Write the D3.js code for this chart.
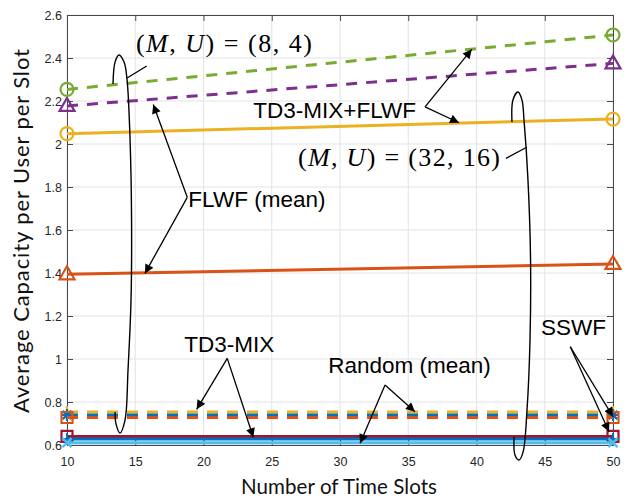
<!DOCTYPE html>
<html>
<head>
<meta charset="utf-8">
<script src="https://cdn.jsdelivr.net/npm/d3@7"></script>
<style>
  body { margin: 0; background: #fff; }
</style>
</head>
<body>
<div id="chart"></div>
<script>
// ---- data ----
var slots = [10, 50];
var xTicks = [10, 15, 20, 25, 30, 35, 40, 45, 50];
var yTicks = [0.6, 0.8, 1, 1.2, 1.4, 1.6, 1.8, 2, 2.2, 2.4, 2.6];

// (M,U) = (8,4) group
var td3flwf_8_4 = [2.254, 2.507];
var flwfMean_8_4 = [2.177, 2.375];
// (M,U) = (32,16) group
var td3flwf_32_16 = [2.048, 2.116];
var flwfMean_32_16 = [1.394, 1.442];
// low curves (dashed: (8,4), solid: (32,16))
var td3mix_8_4 = [0.753, 0.753];
var sswf_8_4 = [0.740, 0.740];
var random_8_4 = [0.728, 0.728];
var td3mix_32_16 = [0.640, 0.640];
var sswf_32_16 = [0.628, 0.628];
var random_32_16 = [0.611, 0.611];

var width = 630;
var height = 500;
var pLeft = 67, pRight = 613, pTop = 15, pBottom = 445;

var svg = d3.select("#chart")
  .append("svg")
  .attr("width", width)
  .attr("height", height)
  .style("font-family", "'Liberation Sans', Arial, sans-serif");

var x = d3.scaleLinear().domain([10, 50]).range([pLeft, pRight]);
var y = d3.scaleLinear().domain([0.6, 2.6]).range([pBottom, pTop]);

// grid
svg.append("g").selectAll("line")
  .data(xTicks).enter().append("line")
  .attr("x1", x).attr("x2", x)
  .attr("y1", pTop).attr("y2", pBottom)
  .attr("stroke", "#e3e3e3").attr("stroke-width", 1);
svg.append("g").selectAll("line")
  .data(yTicks).enter().append("line")
  .attr("y1", y).attr("y2", y)
  .attr("x1", pLeft).attr("x2", pRight)
  .attr("stroke", "#e3e3e3").attr("stroke-width", 1);

// axes, matlab style: ticks inside, box on
var axisColor = "#4a4a4a";
function styleAxis(g, labels) {
  g.select(".domain").attr("stroke", axisColor);
  g.selectAll(".tick line").attr("stroke", axisColor);
  g.selectAll(".tick text").attr("fill", "#262626")
    .style("font-size", "12.5px")
    .style("font-family", "'Liberation Sans', Arial, sans-serif");
  if (!labels) g.selectAll(".tick text").remove();
}
svg.append("g").attr("transform", "translate(0," + pBottom + ")")
  .call(d3.axisBottom(x).tickValues(xTicks).tickSizeInner(-6).tickSizeOuter(0).tickPadding(12))
  .call(styleAxis, true);
svg.append("g").attr("transform", "translate(0," + pTop + ")")
  .call(d3.axisTop(x).tickValues(xTicks).tickSizeInner(-6).tickSizeOuter(0))
  .call(styleAxis, false);
svg.append("g").attr("transform", "translate(" + pLeft + ",0)")
  .call(d3.axisLeft(y).tickValues(yTicks).tickFormat(d3.format("~g")).tickSizeInner(-6).tickSizeOuter(0).tickPadding(5))
  .call(styleAxis, true);
svg.append("g").attr("transform", "translate(" + pRight + ",0)")
  .call(d3.axisRight(y).tickValues(yTicks).tickSizeInner(-6).tickSizeOuter(0))
  .call(styleAxis, false);

// axis titles
svg.append("text")
  .attr("x", 339).attr("y", 494)
  .attr("text-anchor", "middle")
  .attr("textLength", 196).attr("lengthAdjust", "spacing")
  .style("font-family", "Lato, 'Open Sans', sans-serif")
  .style("font-size", "20.5px").attr("fill", "#111")
  .text("Number of Time Slots");
svg.append("text")
  .attr("transform", "translate(29," + 231 + ") rotate(-90)")
  .attr("text-anchor", "middle")
  .attr("textLength", 364).attr("lengthAdjust", "spacing")
  .style("font-family", "Lato, 'Open Sans', sans-serif")
  .style("font-size", "22px").attr("fill", "#111")
  .text("Average Capacity per User per Slot");

// series
var series = [
  {v: td3mix_8_4, color: "#EDB120", dash: true, marker: "plus"},
  {v: sswf_8_4, color: "#0072BD", dash: true, marker: "star"},
  {v: random_8_4, color: "#D95319", dash: true, marker: "square"},
  {v: td3mix_32_16, color: "#A2142F", dash: false, marker: "square"},
  {v: sswf_32_16, color: "#0072BD", dash: false, marker: "plus"},
  {v: random_32_16, color: "#4DBEEE", dash: false, marker: "cross"},
  {v: flwfMean_32_16, color: "#D95319", dash: false, marker: "triangle"},
  {v: td3flwf_32_16, color: "#EDB120", dash: false, marker: "circle"},
  {v: flwfMean_8_4, color: "#7E2F8E", dash: true, marker: "triangle"},
  {v: td3flwf_8_4, color: "#77AC30", dash: true, marker: "circle"}
];

var line = d3.line()
  .x(function(d) { return x(d[0]); })
  .y(function(d) { return y(d[1]); });

function markerPath(type) {
  if (type == "circle") return "M-6.5,0A6.5,6.5 0 1,0 6.5,0A6.5,6.5 0 1,0 -6.5,0Z";
  if (type == "triangle") return "M0,-8L7.5,5L-7.5,5Z";
  if (type == "square") return "M-5.5,-5.5H5.5V5.5H-5.5Z";
  if (type == "plus") return "M-6,0H6M0,-6V6";
  if (type == "cross") return "M-4.5,-4.5L4.5,4.5M-4.5,4.5L4.5,-4.5";
  if (type == "star") return "M-6,0H6M0,-6V6M-4.2,-4.2L4.2,4.2M-4.2,4.2L4.2,-4.2";
}

series.forEach(function(s) {
  var pts = slots.map(function(t, i) { return [t, s.v[i]]; });
  svg.append("path")
    .datum(pts)
    .attr("d", line)
    .attr("fill", "none")
    .attr("stroke", s.color)
    .attr("stroke-width", 3)
    .attr("stroke-dasharray", s.dash ? "11,9" : null);
  svg.selectAll(null)
    .data(pts).enter()
    .append("path")
    .attr("d", markerPath(s.marker))
    .attr("transform", function(d) { return "translate(" + x(d[0]) + "," + y(d[1]) + ")"; })
    .attr("fill", "none")
    .attr("stroke", s.color)
    .attr("stroke-width", 2.2);
});

// ---- annotations (in data units) ----
var ellipse84 = [[13.37,2.279],[13.52,2.381],[13.81,2.414],[14.18,2.381],[14.40,2.298],[14.62,2.019],
  [14.73,1.647],[14.69,1.274],[14.47,0.949],[14.25,0.716],[13.88,0.656],[13.59,0.698],[13.52,0.753]];
var ellipse3216 = [[42.60,2.102],[42.67,2.205],[43.04,2.242],[43.33,2.205],[43.48,2.112],[43.77,1.833],
  [43.96,1.460],[43.92,1.088],[43.70,0.763],[43.41,0.567],[43.11,0.530],[42.82,0.553],[42.75,0.637]];

var curve = d3.line()
  .x(function(d) { return x(d[0]); })
  .y(function(d) { return y(d[1]); })
  .curve(d3.curveCatmullRom.alpha(0.5));

[ellipse84, ellipse3216].forEach(function(e) {
  svg.append("path").attr("d", curve(e))
    .attr("fill", "none").attr("stroke", "#000").attr("stroke-width", 1.4);
});

// leader lines from ellipses to the (M,U) labels
var leaders = [
  [[14.40, 2.307], [15.84, 2.363]],
  [[42.16, 1.933], [43.68, 1.985]]
];
leaders.forEach(function(l) {
  svg.append("path").attr("d", line(l))
    .attr("stroke", "#000").attr("stroke-width", 1.3);
});

svg.append("defs").append("marker")
  .attr("id", "head")
  .attr("viewBox", "0 -5 10 10")
  .attr("refX", 10).attr("refY", 0)
  .attr("markerUnits", "userSpaceOnUse")
  .attr("markerWidth", 11).attr("markerHeight", 9)
  .attr("orient", "auto")
  .append("path").attr("d", "M0,-5L10,0L0,5Z").attr("fill", "#000");

// each arrow pair: vertex then two tips
var arrows = [
  {from: [18.81, 1.752], to: [[16.32, 2.184], [15.71, 1.398]]},
  {from: [36.23, 2.173], to: [[39.65, 2.440], [38.72, 2.099]]},
  {from: [21.74, 1.003], to: [[19.50, 0.766], [23.65, 0.636]]},
  {from: [33.30, 0.879], to: [[31.47, 0.608], [35.49, 0.755]]},
  {from: [46.87, 1.057], to: [[50.0, 0.732], [49.71, 0.662]]}
];
arrows.forEach(function(a) {
  a.to.forEach(function(t) {
    svg.append("path").attr("d", line([a.from, t]))
      .attr("stroke", "#000").attr("stroke-width", 1.3)
      .attr("marker-end", "url(#head)");
  });
});

var labels = [
  {t: "TD3-MIX+FLWF", at: [23.65, 2.119]},
  {t: "FLWF (mean)", at: [18.89, 1.708]},
  {t: "TD3-MIX", at: [18.59, 1.034]},
  {t: "Random (mean)", at: [29.14, 0.933]},
  {t: "SSWF", at: [44.73, 1.112]}
];
svg.selectAll(null).data(labels).enter()
  .append("text")
  .attr("x", function(d) { return x(d.at[0]); })
  .attr("y", function(d) { return y(d.at[1]); })
  .style("font-size", "22.5px")
  .attr("fill", "#000")
  .text(function(d) { return d.t; });

// LaTeX style labels
var mathLabels = [
  {nums: "(8, 4)", at: [15.05, 2.430], w: 176},
  {nums: "(32, 16)", at: [26.92, 1.898], w: 202}
];
mathLabels.forEach(function(m) {
  var t = svg.append("text")
    .attr("x", x(m.at[0])).attr("y", y(m.at[1]))
    .attr("textLength", m.w).attr("lengthAdjust", "spacing")
    .style("font-family", "'Liberation Serif', 'DejaVu Serif', serif")
    .style("font-size", "26px").attr("fill", "#000");
  t.append("tspan").text("(");
  t.append("tspan").style("font-style", "italic").text("M");
  t.append("tspan").text(", ");
  t.append("tspan").style("font-style", "italic").text("U");
  t.append("tspan").text(") = " + m.nums);
});
</script>
</body>
</html>
